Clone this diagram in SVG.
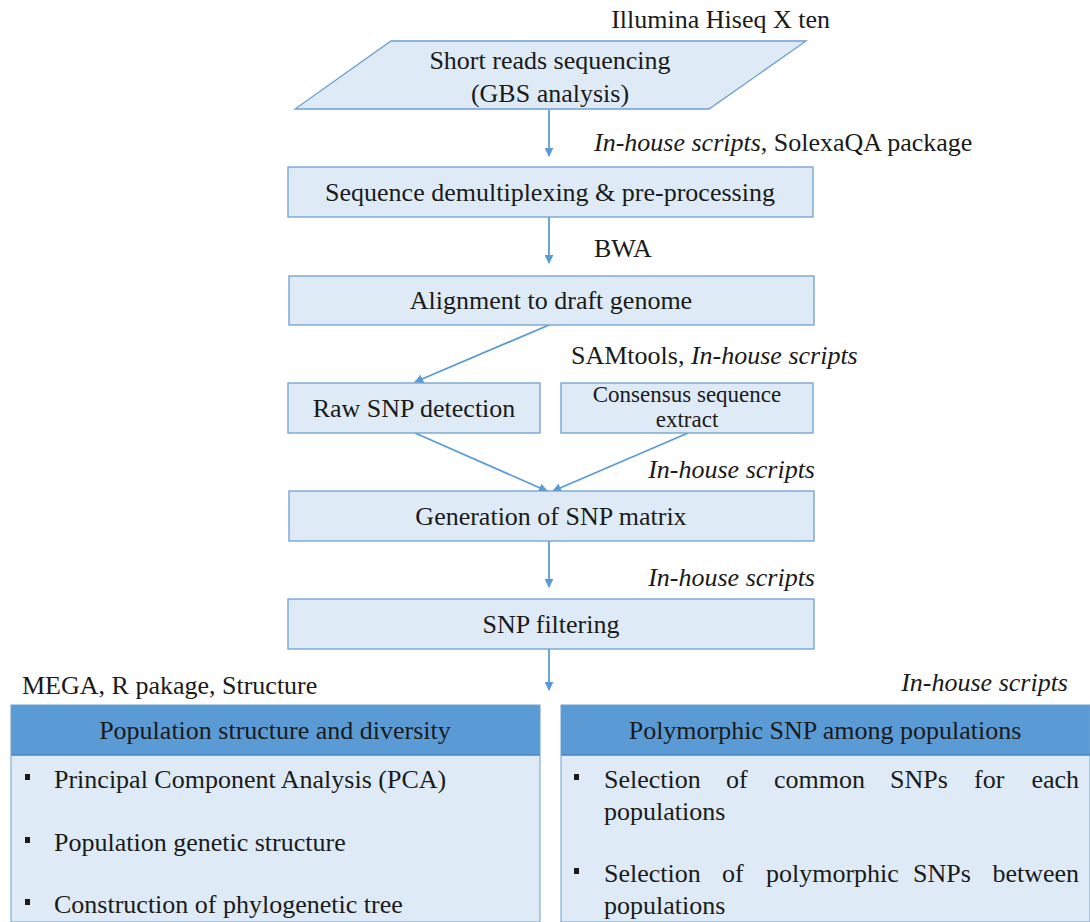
<svg xmlns="http://www.w3.org/2000/svg" width="1090" height="922" viewBox="0 0 1090 922">
<defs>
<marker id="ah" viewBox="0 0 10 10" refX="9" refY="5" markerWidth="5" markerHeight="5" orient="auto">
<path d="M0,0 L10,5 L0,10 z" fill="#5b9bd5"/>
</marker>
</defs>
<rect width="1090" height="922" fill="#ffffff"/>

<g id="connectors" stroke="#5b9bd5" stroke-width="1.8" fill="none" marker-end="url(#ah)">
<line x1="549" y1="110" x2="549" y2="156"/>
<line x1="549" y1="217" x2="549" y2="263"/>
<line x1="549" y1="325" x2="415" y2="382"/>
<line x1="415" y1="433" x2="547" y2="491"/>
<line x1="688" y1="433" x2="553" y2="491"/>
<line x1="549" y1="541" x2="549" y2="587"/>
<line x1="549" y1="649" x2="549" y2="690"/>
</g>

<g id="labels" fill="#1a1a1a">
<text x="830" y="28" text-anchor="end" font-family="Liberation Serif" font-size="26">Illumina Hiseq X ten</text>
<text x="594" y="151" font-family="Liberation Serif" font-size="26"><tspan font-style="italic">In-house scripts</tspan>, SolexaQA package</text>
<text x="594" y="257" font-family="Liberation Serif" font-size="26">BWA</text>
<text x="571" y="364" font-family="Liberation Serif" font-size="26">SAMtools, <tspan font-style="italic">In-house scripts</tspan></text>
<text x="815" y="478" text-anchor="end" font-style="italic" font-family="Liberation Serif" font-size="26">In-house scripts</text>
<text x="815" y="586" text-anchor="end" font-style="italic" font-family="Liberation Serif" font-size="26">In-house scripts</text>
<text x="22" y="694" font-family="Liberation Serif" font-size="26">MEGA, R pakage, Structure</text>
<text x="1068" y="691" text-anchor="end" font-style="italic" font-family="Liberation Serif" font-size="26">In-house scripts</text>
</g>

<g id="n-short-reads">
<polygon points="391,41 806,41 709,109 295,109" fill="#deebf7" stroke="#6f9fd2" stroke-width="1.3"/>
<text x="550" y="69" text-anchor="middle" font-family="Liberation Serif" font-size="26" fill="#1a1a1a">Short reads sequencing</text>
<text x="550" y="102" text-anchor="middle" font-family="Liberation Serif" font-size="26" fill="#1a1a1a">(GBS analysis)</text>
</g>

<g id="n-demux">
<rect x="288" y="167" width="525" height="50" fill="#deebf7" stroke="#6f9fd2" stroke-width="1.3"/>
<text x="550" y="201" text-anchor="middle" font-family="Liberation Serif" font-size="26" fill="#1a1a1a">Sequence demultiplexing &amp; pre-processing</text>
</g>

<g id="n-align">
<rect x="289" y="276" width="525" height="49" fill="#deebf7" stroke="#6f9fd2" stroke-width="1.3"/>
<text x="551" y="309" text-anchor="middle" font-family="Liberation Serif" font-size="26" fill="#1a1a1a">Alignment to draft genome</text>
</g>

<g id="n-raw-snp">
<rect x="288" y="383" width="252" height="50" fill="#deebf7" stroke="#6f9fd2" stroke-width="1.3"/>
<text x="414" y="417" text-anchor="middle" font-family="Liberation Serif" font-size="26" fill="#1a1a1a">Raw SNP detection</text>
</g>

<g id="n-consensus">
<rect x="561" y="383" width="252" height="50" fill="#deebf7" stroke="#6f9fd2" stroke-width="1.3"/>
<text x="687" y="402" text-anchor="middle" font-family="Liberation Serif" font-size="23" fill="#1a1a1a">Consensus sequence</text>
<text x="687" y="427" text-anchor="middle" font-family="Liberation Serif" font-size="23" fill="#1a1a1a">extract</text>
</g>

<g id="n-matrix">
<rect x="289" y="491" width="525" height="50" fill="#deebf7" stroke="#6f9fd2" stroke-width="1.3"/>
<text x="551" y="525" text-anchor="middle" font-family="Liberation Serif" font-size="26" fill="#1a1a1a">Generation of SNP matrix</text>
</g>

<g id="n-filter">
<rect x="288" y="599" width="526" height="50" fill="#deebf7" stroke="#6f9fd2" stroke-width="1.3"/>
<text x="551" y="633" text-anchor="middle" font-family="Liberation Serif" font-size="26" fill="#1a1a1a">SNP filtering</text>
</g>

<g id="n-population">
<rect x="11" y="705" width="529" height="50" fill="#5b9bd5"/>
<rect x="11" y="755" width="529" height="167" fill="#deebf7"/>
<line x1="11" y1="755" x2="540" y2="755" stroke="#4a85bd" stroke-width="1.5"/>
<rect x="11" y="705" width="529" height="217" fill="none" stroke="#6f9fd2" stroke-width="1"/>
<text x="275" y="739" text-anchor="middle" font-family="Liberation Serif" font-size="26" fill="#1a1a1a">Population structure and diversity</text>
<rect x="25" y="774" width="5" height="6" fill="#1a1a1a"/>
<text x="54" y="788" font-family="Liberation Serif" font-size="26" fill="#1a1a1a">Principal Component Analysis (PCA)</text>
<rect x="25" y="837" width="5" height="6" fill="#1a1a1a"/>
<text x="54" y="851" font-family="Liberation Serif" font-size="26" fill="#1a1a1a">Population genetic structure</text>
<rect x="25" y="899" width="5" height="6" fill="#1a1a1a"/>
<text x="54" y="913" font-family="Liberation Serif" font-size="26" fill="#1a1a1a">Construction of phylogenetic tree</text>
</g>

<g id="n-polymorphic">
<rect x="561" y="705" width="529" height="50" fill="#5b9bd5"/>
<rect x="561" y="755" width="529" height="167" fill="#deebf7"/>
<line x1="561" y1="755" x2="1090" y2="755" stroke="#4a85bd" stroke-width="1.5"/>
<rect x="561" y="705" width="529" height="217" fill="none" stroke="#6f9fd2" stroke-width="1"/>
<text x="825" y="739" text-anchor="middle" font-family="Liberation Serif" font-size="26" fill="#1a1a1a">Polymorphic SNP among populations</text>
<rect x="574" y="774" width="5" height="6" fill="#1a1a1a"/>
<text y="788" font-family="Liberation Serif" font-size="26" fill="#1a1a1a"><tspan x="604">Selection</tspan><tspan x="726">of</tspan><tspan x="774">common</tspan><tspan x="890">SNPs</tspan><tspan x="974">for</tspan><tspan x="1079" text-anchor="end">each</tspan></text>
<text x="604" y="820" font-family="Liberation Serif" font-size="26" fill="#1a1a1a">populations</text>
<rect x="574" y="868" width="5" height="6" fill="#1a1a1a"/>
<text y="882" font-family="Liberation Serif" font-size="26" fill="#1a1a1a"><tspan x="604">Selection</tspan><tspan x="722">of</tspan><tspan x="766">polymorphic</tspan><tspan x="913">SNPs</tspan><tspan x="1079" text-anchor="end">between</tspan></text>
<text x="604" y="914" font-family="Liberation Serif" font-size="26" fill="#1a1a1a">populations</text>
</g>
</svg>
